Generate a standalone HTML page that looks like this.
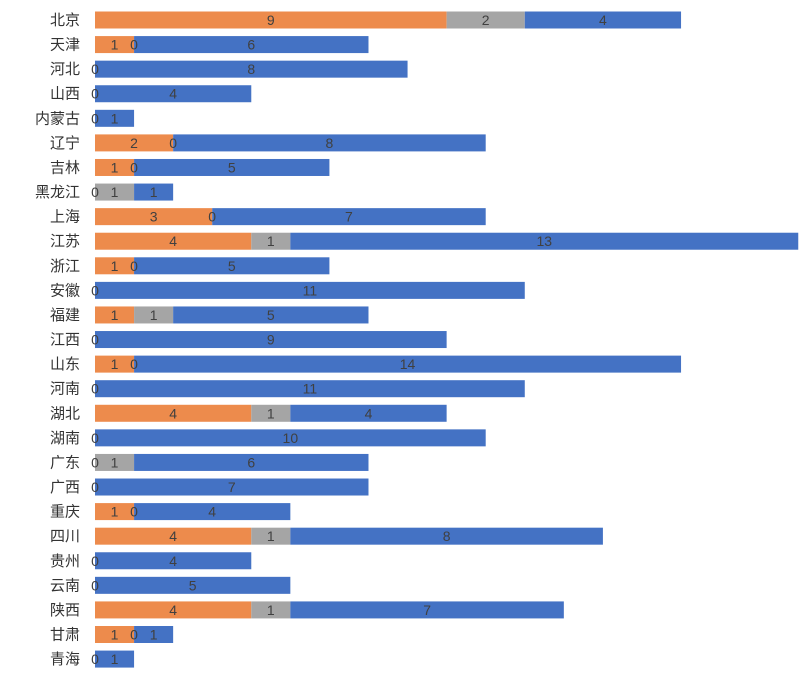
<!DOCTYPE html>
<html><head><meta charset="utf-8"><style>
html,body{margin:0;padding:0;background:#fff;}
svg{display:block;font-family:"Liberation Sans","Noto Sans CJK SC",sans-serif;}
</style></head><body>
<svg id="chart" width="800" height="681"></svg>
<script>
const categories=["北京","天津","河北","山西","内蒙古","辽宁","吉林","黑龙江","上海","江苏","浙江","安徽","福建","江西","山东","河南","湖北","湖南","广东","广西","重庆","四川","贵州","云南","陕西","甘肃","青海"];
const orangeValues=[9,1,0,0,0,2,1,0,3,4,1,0,1,0,1,0,4,0,0,0,1,4,0,0,4,1,0];
const grayValues=[2,0,null,null,null,0,0,1,0,1,0,null,1,null,0,null,1,null,1,null,0,1,null,null,1,0,null];
const blueValues=[4,6,8,4,1,8,5,1,7,13,5,11,5,9,14,11,4,10,6,7,4,8,4,5,7,1,1];
const svg=document.getElementById('chart');
const NS='http://www.w3.org/2000/svg';
const x0=95,unit=39.07,y0=20,step=24.58,bh=17;
const xs=v=>x0+v*unit;
const yc=i=>y0+i*step;
function mk(t,a){const e=document.createElementNS(NS,t);for(const k in a)e.setAttribute(k,a[k]);svg.appendChild(e);return e;}
const labels=[];
categories.forEach((c,i)=>{
  const y=yc(i);
  const lab=mk('text',{x:80,y:y+5,'text-anchor':'end','font-size':15,fill:'#333'});
  lab.textContent=c;
  
  
  let acc=0;
  const segs=[[orangeValues[i],'#ed8b4c','orange'],[grayValues[i],'#a5a5a5','gray'],[blueValues[i],'#4472c4','blue']];
  segs.forEach(([v,col,nm])=>{
    if(v===null)return;
    const xa=xs(acc),xb=xs(acc+v);
    if(v>0){
      const r=mk('rect',{x:xa,y:y-bh/2,width:xb-xa,height:bh,fill:col});
      
      
    }
    labels.push([v>0?(xa+xb)/2:xa,y,v]);
    acc+=v;
  });
});
labels.forEach(([x,y,v])=>{
  const t=mk('text',{x:x,y:y+5,'text-anchor':'middle','font-size':14,fill:'#404040'});
  t.textContent=v;
  
  
});
</script>
</body></html>
